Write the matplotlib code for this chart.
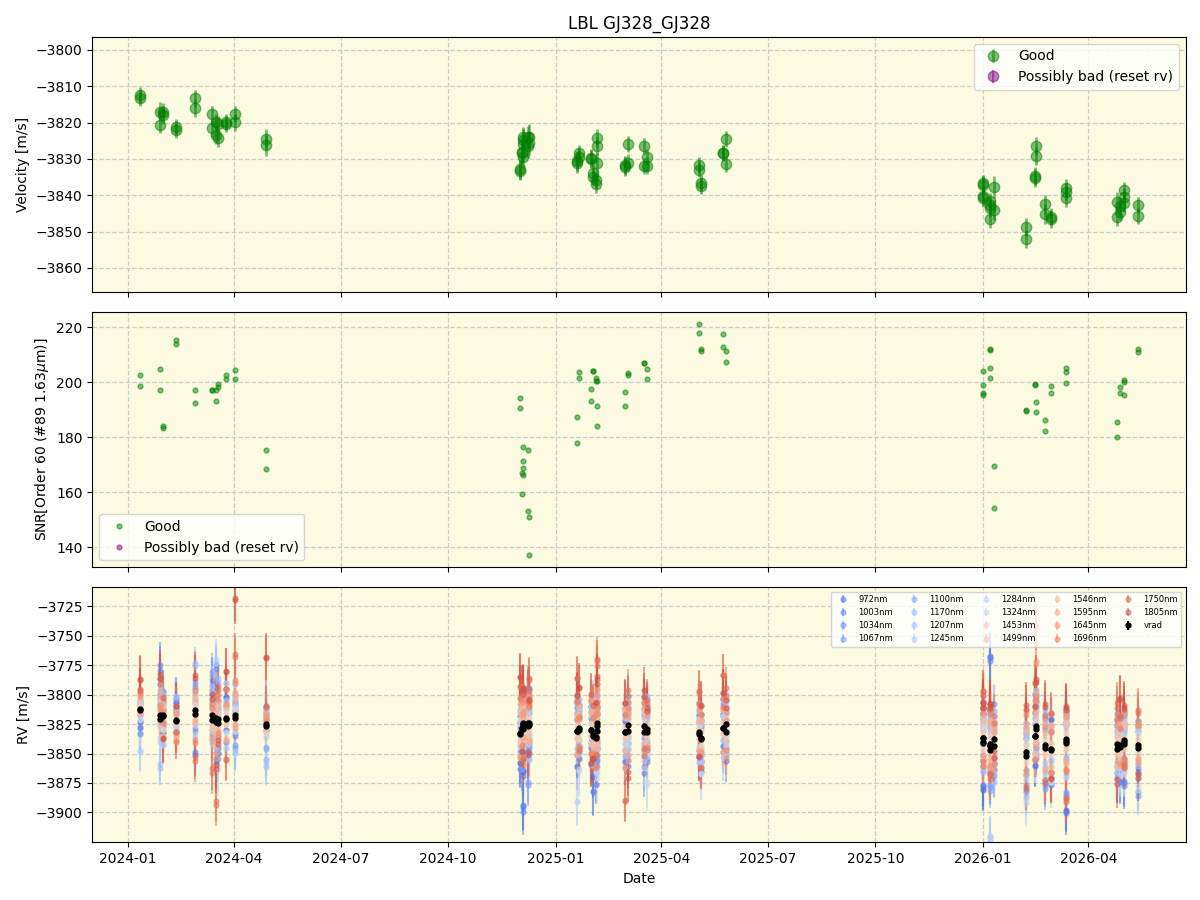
import numpy as np
import pandas as pd
import matplotlib
matplotlib.use("Agg")
from matplotlib import pyplot as plt
import matplotlib.dates as mdates

# ---------------- data ----------------
obs_dates = [
    "2024-01-12", "2024-01-12", "2024-01-29", "2024-01-29", "2024-01-31", "2024-01-31",
    "2024-02-11", "2024-02-11", "2024-02-28", "2024-02-28", "2024-03-13", "2024-03-13",
    "2024-03-17", "2024-03-17", "2024-03-18", "2024-03-18", "2024-03-25", "2024-03-25",
    "2024-04-02", "2024-04-02", "2024-04-28", "2024-04-28",
    "2024-12-01", "2024-12-01", "2024-12-03", "2024-12-03", "2024-12-04", "2024-12-04",
    "2024-12-04", "2024-12-04", "2024-12-08", "2024-12-08", "2024-12-09", "2024-12-09",
    "2025-01-19", "2025-01-19", "2025-01-21", "2025-01-21", "2025-01-31", "2025-01-31",
    "2025-02-02", "2025-02-02", "2025-02-04", "2025-02-04", "2025-02-05", "2025-02-05",
    "2025-02-05",
    "2025-03-01", "2025-03-01", "2025-03-04", "2025-03-04", "2025-03-17", "2025-03-17",
    "2025-03-20", "2025-03-20",
    "2025-05-03", "2025-05-03", "2025-05-05", "2025-05-05", "2025-05-24", "2025-05-24",
    "2025-05-26", "2025-05-26",
    "2026-01-01", "2026-01-01", "2026-01-01", "2026-01-01", "2026-01-07", "2026-01-07",
    "2026-01-07", "2026-01-07", "2026-01-10", "2026-01-10", "2026-02-07", "2026-02-07",
    "2026-02-14", "2026-02-14", "2026-02-15", "2026-02-15", "2026-02-23", "2026-02-23",
    "2026-02-28", "2026-02-28", "2026-03-13", "2026-03-13", "2026-03-13",
    "2026-04-25", "2026-04-25", "2026-04-28", "2026-04-28", "2026-05-01", "2026-05-01",
    "2026-05-01", "2026-05-13", "2026-05-13",
]

vrad = [
    -3812.4, -3813.3, -3817.0, -3820.6, -3817.0, -3817.9,
    -3821.3, -3822.0, -3813.3, -3816.0, -3817.6, -3821.6,
    -3819.9, -3823.4, -3824.3, -3820.5, -3819.9, -3820.3,
    -3817.6, -3819.9, -3824.6, -3826.2,
    -3833.2, -3832.8, -3828.4, -3828.0, -3823.9, -3824.8,
    -3829.5, -3826.0, -3823.9, -3826.5, -3825.7, -3823.9,
    -3831.2, -3830.5, -3828.4, -3829.6, -3829.8, -3830.1,
    -3833.9, -3834.9, -3835.8, -3836.9, -3824.3, -3826.4,
    -3831.0,
    -3831.7, -3832.1, -3825.9, -3831.0, -3826.4, -3831.9,
    -3829.4, -3831.9,
    -3831.7, -3833.0, -3836.5, -3837.4, -3828.3, -3828.3,
    -3824.6, -3831.4,
    -3836.6, -3837.2, -3840.2, -3840.9, -3841.7, -3842.7,
    -3846.6, -3843.6, -3844.0, -3837.8, -3848.8, -3852.1,
    -3834.7, -3835.2, -3826.4, -3829.2, -3842.5, -3845.1,
    -3845.9, -3846.6, -3837.9, -3839.0, -3840.8,
    -3841.8, -3845.9, -3844.5, -3843.1, -3838.7, -3840.4,
    -3842.2, -3842.7, -3845.7,
]

vrad_err = [
    2.3, 2.2, 2.6, 2.4, 2.5, 2.4,
    2.2, 2.2, 2.3, 2.4, 2.2, 2.3,
    2.3, 2.4, 2.5, 2.3, 2.2, 2.2,
    2.3, 2.4, 2.8, 2.9,
    2.6, 2.7, 3.0, 3.1, 2.8, 2.9,
    3.0, 3.0, 2.9, 3.2, 3.2, 3.4,
    2.6, 2.8, 2.3, 2.3, 2.4, 2.5,
    2.3, 2.3, 2.3, 2.4, 2.4, 2.5,
    2.6,
    2.4, 2.5, 2.3, 2.3, 2.2, 2.2,
    2.2, 2.3,
    2.1, 2.1, 2.2, 2.2, 2.1, 2.2,
    2.2, 2.3,
    2.3, 2.4, 2.4, 2.4, 2.2, 2.2,
    2.3, 2.4, 2.8, 3.1, 2.5, 2.5,
    2.4, 2.4, 2.5, 2.6, 2.6, 2.7,
    2.4, 2.4, 2.3, 2.3, 2.4,
    2.6, 2.7, 2.4, 2.4, 2.4, 2.4,
    2.5, 2.2, 2.2,
]

snr = [
    202.8, 198.8, 205.0, 197.0, 184.1, 183.4,
    215.2, 214.1, 197.3, 192.6, 197.1, 197.1,
    197.3, 193.3, 199.5, 198.2, 202.8, 201.3,
    204.6, 201.0, 175.2, 168.3,
    194.1, 190.8, 166.8, 159.2, 176.6, 171.2,
    168.6, 166.1, 175.2, 153.3, 150.8, 137.0,
    187.2, 177.7, 203.9, 201.7, 197.7, 193.0,
    204.1, 204.1, 201.7, 200.5, 200.5, 191.2,
    183.9,
    196.6, 191.5, 203.5, 202.8, 207.0, 207.0,
    205.0, 201.0,
    221.3, 218.1, 212.1, 211.5, 217.7, 213.0,
    211.5, 207.2,
    204.0, 198.9, 196.0, 195.3, 212.0, 211.6,
    205.1, 201.5, 169.5, 154.2, 189.8, 189.5,
    199.0, 199.2, 192.7, 189.1, 186.2, 182.2,
    198.5, 196.0, 205.1, 203.6, 199.6,
    185.5, 180.0, 198.2, 196.0, 200.7, 200.0,
    195.3, 212.0, 210.9,
]

wavelengths = [972, 1003, 1034, 1067, 1100, 1170, 1207, 1245, 1284,
               1324, 1453, 1499, 1546, 1595, 1645, 1696, 1750, 1805]

wl_err = [18, 20, 16, 18, 15, 14, 16, 17, 20, 22, 14, 12, 11, 12, 13, 15, 18, 20]

# per night: offset of each wavelength RV from vrad [m/s]
nights = [
    "2024-01-12", "2024-01-29", "2024-01-31", "2024-02-11", "2024-02-28", "2024-03-13",
    "2024-03-17", "2024-03-18", "2024-03-25", "2024-04-02", "2024-04-28",
    "2024-12-01", "2024-12-03", "2024-12-04", "2024-12-08", "2024-12-09",
    "2025-01-19", "2025-01-21", "2025-01-31", "2025-02-02", "2025-02-04", "2025-02-05",
    "2025-03-01", "2025-03-04", "2025-03-17", "2025-03-20",
    "2025-05-03", "2025-05-05", "2025-05-24", "2025-05-26",
    "2026-01-01", "2026-01-07", "2026-01-10", "2026-02-07", "2026-02-14", "2026-02-15",
    "2026-02-23", "2026-02-28", "2026-03-13",
    "2026-04-25", "2026-04-28", "2026-05-01", "2026-05-13",
]

wl_offsets = [
    [-10, -15, 5, -20, 8, -5, -2, -35, 3, -8, 6, 2, 10, -3, 12, 15, 17, 26],
    [18, 42, 10, -5, 30, -42, 12, -20, 25, 15, -8, 5, 12, 20, -3, 8, 30, 35],
    [5, 12, -15, 20, -10, 18, -25, 8, -5, 2, -12, 6, -18, 10, 4, -6, 15, -20],
    [15, 8, -10, 18, 10, 20, -5, 12, -8, 5, -3, 7, -15, -12, 6, -18, -10, 12],
    [-35, 10, 20, -15, 25, 40, 15, -20, 5, -10, 8, -5, 12, -8, 18, -25, -40, 30],
    [22, 30, -12, 10, 38, 15, -20, 25, 8, -5, -10, 5, -8, 12, -18, 10, -45, 18],
    [30, -35, 45, 15, 20, 10, -25, 50, -15, 5, 12, -8, -20, 8, -30, 20, -70, -40],
    [-25, 15, 8, -30, 20, 35, -15, 10, 5, -40, 6, -6, 15, -10, 20, -12, 28, -18],
    [18, -10, 25, 10, -20, 15, 30, -25, 8, -12, 5, -5, 10, -18, 12, 25, -35, 40],
    [12, -15, 5, -25, 18, 10, -30, 8, 28, -12, 6, -4, 15, 20, -8, 30, 52, 100],
    [10, 15, -5, 5, -20, -30, -35, 8, -10, 12, -6, 4, -3, 6, 8, 3, 15, 57],
    [-25, 10, -30, 15, 5, -15, 20, -10, 8, -5, 12, -8, 18, 25, -20, 30, 40, 48],
    [20, -20, 25, -35, 10, 18, -12, 5, -25, 15, -6, 6, -10, 12, 22, -15, 35, -20],
    [-40, -70, 15, 30, -25, 12, 8, -15, 20, 10, -5, 8, 15, -12, 10, 25, -30, 30],
    [15, 25, -20, -50, 30, -10, 10, 22, -8, -15, 6, -4, -12, 18, 15, 20, 30, -25],
    [30, -15, 10, -25, -20, 25, -30, 15, 12, -10, 4, -8, 20, -15, 25, 15, 38, 20],
    [25, -30, 15, -20, 20, 10, -15, 30, -60, 12, 5, -6, 15, -20, 10, 25, 45, 30],
    [-15, 20, -25, 10, 15, -20, 25, -10, 18, -35, -8, 8, 12, 20, -15, 10, -18, 35],
    [20, 10, -15, 25, -30, 15, -10, 20, -5, 12, 6, -5, -12, 15, 25, -20, 30, -28],
    [-35, -48, 20, 15, 10, -25, 30, -15, 22, -10, 5, 10, -8, 20, -15, 15, 25, -20],
    [15, 30, -40, -20, 25, 12, -30, 18, -12, 28, -6, 4, 15, -10, 20, -25, -15, 30],
    [-20, 15, 10, -30, -15, 25, 20, -20, 15, -40, 8, -6, 20, -12, 30, 15, 55, 40],
    [10, -25, 20, -15, 15, -20, 12, 25, -10, 18, 5, -5, -15, 20, -30, 15, -58, 25],
    [-30, 15, -10, 25, -20, 10, 18, -15, 22, -12, -6, 6, 15, -25, 12, 20, 30, -40],
    [20, -35, 15, -10, 25, -15, -20, 12, -30, 15, 5, -8, 20, 15, -18, 25, -20, 30],
    [-15, 20, -25, 15, -10, 28, 10, -20, 15, -45, -5, 4, -12, 20, 15, -15, 25, 18],
    [15, -20, 10, 25, -15, 10, -25, 18, -12, 12, 5, -5, 10, -15, 20, 25, 35, -20],
    [-20, 15, -28, 10, 20, -15, 12, -20, 15, -30, -6, 6, -10, 15, -12, 20, -25, 28],
    [12, 25, -15, -20, 10, 20, -10, 15, -25, 10, 4, -4, 15, -20, 25, 18, 45, 30],
    [-25, 10, 20, -15, -20, 15, 25, -10, 12, -18, -5, 5, -15, 20, 10, -22, 30, 20],
    [-40, 25, -15, 20, 30, -25, 15, -20, 10, 12, -6, 6, 18, -15, 25, -20, 40, 30],
    [30, 75, -20, 15, -35, 20, 25, -78, 15, -20, 8, -5, -12, 20, -18, 30, -25, 35],
    [-20, -15, 30, -25, 15, -30, 20, 12, -15, 25, 5, -4, 15, -20, 12, -15, 20, -10],
    [15, -30, 20, -15, 25, -35, -20, 15, -40, 10, -6, 6, 20, 25, -15, 35, -28, 40],
    [-25, 20, 35, -20, 10, 15, -15, 25, 12, -18, 5, -5, -15, 20, 30, -20, 45, 25],
    [20, -15, -25, 30, -20, 25, 15, -10, 20, 15, -6, 8, 30, -15, 55, 25, 85, 40],
    [-30, 25, 15, -35, 20, -20, 30, -15, -25, 20, 5, -6, 12, -20, 18, 25, -30, 35],
    [25, -20, -30, 15, -25, 30, -10, 20, 15, -28, -5, 5, -15, 20, -20, 15, 30, -25],
    [-60, 15, 25, -45, 20, -15, 25, -30, 12, 18, 6, -6, 15, -18, 22, -25, -50, 28],
    [20, -25, 15, -20, 25, -15, -30, 15, 10, -20, 5, -5, 12, -15, 20, 25, 35, -30],
    [-30, 15, -20, 25, -15, 20, 15, -25, -18, 12, -6, 6, -12, 20, -15, 15, 25, 40],
    [15, -35, 25, -15, 10, -20, 20, 12, -25, 15, 4, -4, 15, -20, 25, -15, -20, 30],
    [-20, 20, -40, 15, -25, 15, -15, 20, 12, -35, -5, 5, -10, 18, -12, 20, 30, -25],
]

# ---------------- figure ----------------
dates = pd.to_datetime(obs_dates)
vrad = np.array(vrad)
vrad_err = np.array(vrad_err)
snr = np.array(snr)
bg = '#fcfbe1'

fig, (ax1, ax2, ax3) = plt.subplots(3, 1, figsize=(12, 9), dpi=100, sharex=True)
fig.subplots_adjust(left=0.077, right=0.988, top=0.959, bottom=0.064, hspace=0.08)

for ax in (ax1, ax2, ax3):
    ax.set_facecolor(bg)
    ax.grid(True, color='#cccccc', linestyle='--', linewidth=0.9)
    ax.set_axisbelow(True)

# top: velocity
ax1.errorbar(dates, vrad, yerr=vrad_err, fmt='o', color='green', ecolor='green',
             alpha=0.5, markersize=7.5, elinewidth=2, label='Good')
ax1.errorbar([], [], yerr=[], fmt='o', color='purple', alpha=0.5, markersize=7.5,
             label='Possibly bad (reset rv)')
ax1.set_ylabel('Velocity [m/s]')
ax1.set_ylim(-3866.6, -3796.4)
ax1.set_yticks(np.arange(-3860, -3799, 10))
ax1.set_title('LBL GJ328_GJ328')
ax1.legend(loc='upper right')

# middle: SNR
ax2.plot(dates, snr, 'o', color='green', alpha=0.5, markersize=3.5, label='Good')
ax2.plot([], [], 'o', color='purple', alpha=0.5, markersize=3.5, label='Possibly bad (reset rv)')
ax2.set_ylabel(r'SNR[Order 60 (#89 1.63$\mu$m)]')
ax2.set_ylim(132.7, 225.5)
ax2.legend(loc='lower left')

# bottom: per-wavelength RV, coloured by wavelength
night_idx = [nights.index(d) for d in obs_dates]
offs = np.array(wl_offsets)[night_idx]
wl = np.array(wavelengths)
colors = plt.cm.coolwarm(0.1 + 0.8 * (wl - wl.min()) / (wl.max() - wl.min()))
for i, w in enumerate(wavelengths):
    ax3.errorbar(dates, vrad + offs[:, i], yerr=wl_err[i], fmt='o', color=colors[i],
                 alpha=0.5, markersize=3.5, elinewidth=1.5, label=f'{w}nm')
ax3.errorbar(dates, vrad, yerr=vrad_err, fmt='o', color='black', markersize=3.5,
             elinewidth=1.5, label='vrad')
ax3.set_ylabel('RV [m/s]')
ax3.set_ylim(-3925.5, -3708.9)
ax3.set_yticks(np.arange(-3900, -3724, 25))
ax3.legend(loc='upper right', ncol=5, fontsize=6, columnspacing=1.6)
ax3.set_xlabel('Date')

ax3.set_xlim(pd.Timestamp('2023-12-02'), pd.Timestamp('2026-06-23'))
ax3.xaxis.set_major_locator(mdates.MonthLocator(bymonth=[1, 4, 7, 10]))
ax3.xaxis.set_major_formatter(mdates.DateFormatter('%Y-%m'))

plt.savefig('out.png', dpi=100)
